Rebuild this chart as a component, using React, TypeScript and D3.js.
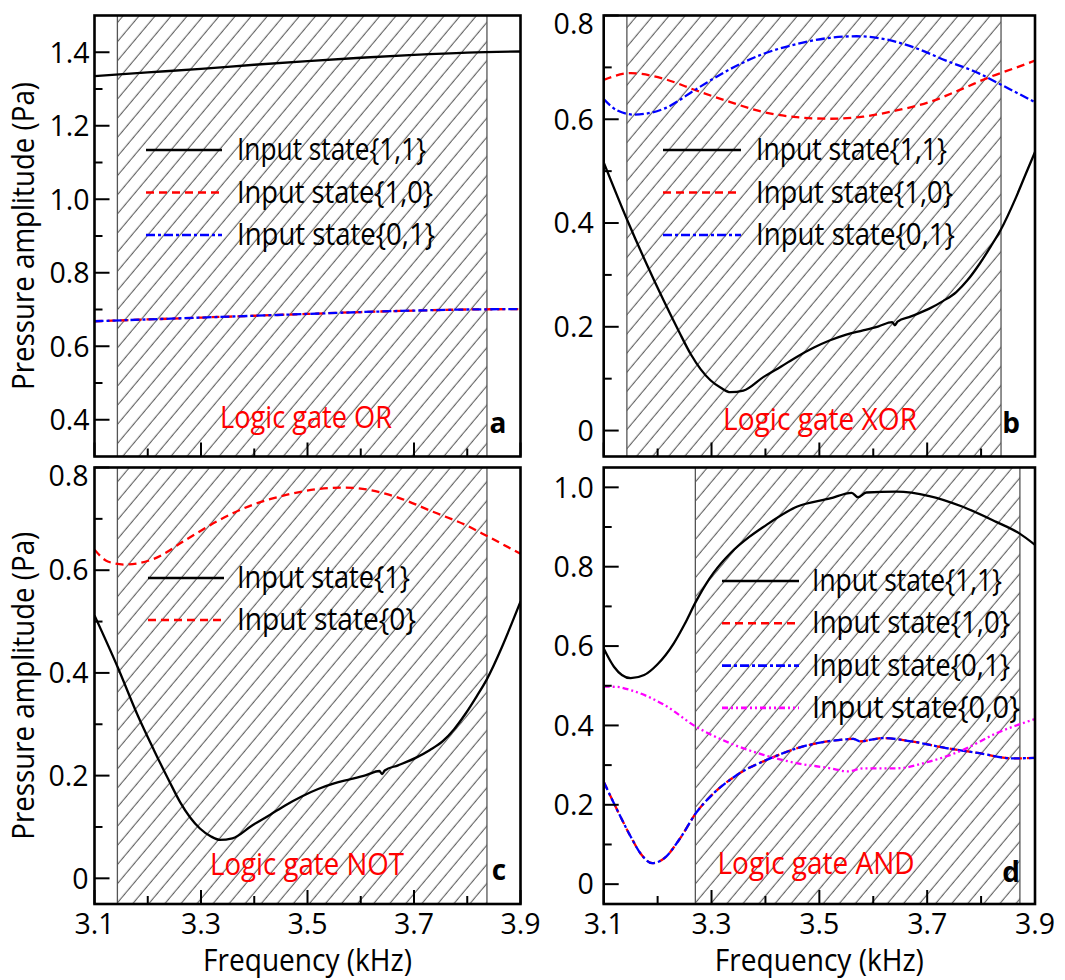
import React from "react";
import * as d3 from "d3";

// ---------------- data ----------------
const freqMajor = [3.1, 3.3, 3.5, 3.7, 3.9];
const freqMinor = [3.2, 3.4, 3.6, 3.8];
const freqLabels = ["3.1", "3.3", "3.5", "3.7", "3.9"];

// (a) Logic gate OR
const orFreq = [3.1, 3.2, 3.3, 3.4, 3.5, 3.6, 3.7, 3.8, 3.9];
const or11 = [1.335, 1.345, 1.355, 1.366, 1.376, 1.385, 1.393, 1.399, 1.402];
const or10 = [0.668, 0.673, 0.678, 0.683, 0.688, 0.693, 0.697, 0.7, 0.701];
const or01 = [0.668, 0.673, 0.678, 0.683, 0.688, 0.693, 0.697, 0.7, 0.701];
const orYMajor = [0.4, 0.6, 0.8, 1.0, 1.2, 1.4];
const orYMinor = [0.5, 0.7, 0.9, 1.1, 1.3];
const orYLabels = ["0.4", "0.6", "0.8", "1.0", "1.2", "1.4"];

// (b) Logic gate XOR
const xorFreq11 = [3.1, 3.144, 3.18, 3.211, 3.24, 3.261, 3.28, 3.298, 3.318, 3.335, 3.359, 3.396, 3.43, 3.458, 3.49, 3.52, 3.55, 3.581, 3.61, 3.635, 3.64, 3.645, 3.67, 3.704, 3.73, 3.754, 3.775, 3.797, 3.818, 3.836, 3.865, 3.883, 3.9];
const xor11 = [0.517, 0.405, 0.32, 0.251, 0.19, 0.148, 0.118, 0.097, 0.082, 0.074, 0.077, 0.103, 0.124, 0.142, 0.16, 0.174, 0.185, 0.193, 0.201, 0.209, 0.203, 0.21, 0.22, 0.235, 0.25, 0.267, 0.29, 0.321, 0.355, 0.386, 0.45, 0.495, 0.537];
const xorFreq10 = [3.1, 3.15, 3.211, 3.273, 3.335, 3.396, 3.458, 3.52, 3.581, 3.643, 3.704, 3.766, 3.815, 3.858, 3.9];
const xor10 = [0.676, 0.689, 0.678, 0.655, 0.633, 0.614, 0.604, 0.601, 0.605, 0.617, 0.633, 0.659, 0.681, 0.697, 0.713];
const xorFreq01 = [3.1, 3.125, 3.156, 3.211, 3.273, 3.335, 3.396, 3.458, 3.52, 3.569, 3.618, 3.674, 3.735, 3.797, 3.84, 3.9];
const xor01 = [0.639, 0.617, 0.609, 0.62, 0.659, 0.697, 0.726, 0.745, 0.757, 0.76, 0.755, 0.739, 0.713, 0.688, 0.665, 0.633];
const lowYMajor = [0, 0.2, 0.4, 0.6, 0.8];
const lowYMinor = [0.1, 0.3, 0.5, 0.7];
const lowYLabels = ["0", "0.2", "0.4", "0.6", "0.8"];

// (c) Logic gate NOT
const notFreq1 = [3.1, 3.144, 3.18, 3.211, 3.24, 3.261, 3.28, 3.298, 3.318, 3.335, 3.359, 3.396, 3.43, 3.458, 3.49, 3.52, 3.55, 3.581, 3.61, 3.635, 3.64, 3.645, 3.67, 3.704, 3.73, 3.754, 3.775, 3.797, 3.818, 3.836, 3.865, 3.883, 3.9];
const not1 = [0.512, 0.41, 0.32, 0.251, 0.19, 0.148, 0.118, 0.097, 0.082, 0.075, 0.078, 0.103, 0.124, 0.142, 0.16, 0.174, 0.185, 0.193, 0.201, 0.209, 0.203, 0.21, 0.22, 0.235, 0.25, 0.267, 0.29, 0.321, 0.355, 0.386, 0.45, 0.495, 0.539];
const notFreq0 = [3.1, 3.125, 3.156, 3.211, 3.273, 3.335, 3.396, 3.458, 3.52, 3.569, 3.618, 3.674, 3.735, 3.797, 3.84, 3.9];
const not0 = [0.64, 0.617, 0.611, 0.622, 0.66, 0.698, 0.727, 0.746, 0.758, 0.761, 0.756, 0.74, 0.714, 0.688, 0.665, 0.632];

// (d) Logic gate AND
const andFreq11 = [3.1, 3.119, 3.15, 3.175, 3.199, 3.23, 3.25, 3.271, 3.29, 3.304, 3.335, 3.37, 3.396, 3.458, 3.52, 3.56, 3.572, 3.587, 3.643, 3.704, 3.766, 3.828, 3.871, 3.9];
const and11 = [0.594, 0.548, 0.519, 0.527, 0.553, 0.607, 0.655, 0.712, 0.757, 0.785, 0.834, 0.875, 0.9, 0.951, 0.972, 0.986, 0.975, 0.987, 0.989, 0.978, 0.951, 0.913, 0.884, 0.855];
const andFreq10 = [3.1, 3.125, 3.15, 3.168, 3.19, 3.212, 3.242, 3.271, 3.304, 3.347, 3.409, 3.47, 3.55, 3.563, 3.575, 3.618, 3.674, 3.735, 3.797, 3.858, 3.9];
const and10 = [0.258, 0.187, 0.12, 0.078, 0.053, 0.065, 0.116, 0.179, 0.229, 0.275, 0.317, 0.347, 0.365, 0.366, 0.36, 0.368, 0.359, 0.343, 0.33, 0.317, 0.318];
const and01 = [0.258, 0.187, 0.12, 0.078, 0.053, 0.065, 0.116, 0.179, 0.229, 0.275, 0.317, 0.347, 0.365, 0.366, 0.36, 0.368, 0.359, 0.343, 0.33, 0.317, 0.318];
const andFreq00 = [3.1, 3.125, 3.15, 3.212, 3.271, 3.335, 3.396, 3.458, 3.52, 3.553, 3.581, 3.643, 3.704, 3.766, 3.828, 3.9];
const and00 = [0.498, 0.497, 0.489, 0.452, 0.397, 0.355, 0.326, 0.305, 0.292, 0.284, 0.292, 0.292, 0.309, 0.338, 0.38, 0.416];
const andYMajor = [0, 0.2, 0.4, 0.6, 0.8, 1.0];
const andYMinor = [0.1, 0.3, 0.5, 0.7, 0.9];
const andYLabels = ["0", "0.2", "0.4", "0.6", "0.8", "1.0"];

const legend2 = ["Input state{1,1}", "Input state{1,0}", "Input state{0,1}"];
const legend1 = ["Input state{1}", "Input state{0}"];
const legend4 = ["Input state{1,1}", "Input state{1,0}", "Input state{0,1}", "Input state{0,0}"];

// ---------------- styles ----------------
const FONT = "'Open Sans', 'Noto Sans', sans-serif";
const TXT = 30.5;
const RED = "#ff0000";
const BLUE = "#0000ff";
const MAGENTA = "#ff00ff";
const S_SOLID = { color: "#000", dash: undefined as string | undefined, width: 2.3 };
const S_DASH = { color: RED, dash: "8,5", width: 2.3 };
const S_DASHDOT = { color: BLUE, dash: "9,3,3,3", width: 2.3 };
const S_DASHDOTDOT = { color: MAGENTA, dash: "6,3,2,3,2,3", width: 2.3 };

type Series = { f: number[]; v: number[]; style: typeof S_SOLID };
type Legend = { labels: string[]; styles: (typeof S_SOLID)[]; widths: number[]; x0: number; x1: number; tx: number; y0: number; step: number };

type PanelProps = {
  id: string;
  left: number; right: number; top: number; bottom: number;
  yDomain: [number, number];
  yMajor: number[]; yMinor: number[]; yLabels: string[]; yLabelGap: number;
  hatch: [number, number];
  series: Series[];
  legend: Legend;
  gate: { text: string; x: number; y: number; w: number };
  letter: { text: string; x: number; y: number };
  xLabels: boolean;
  yTitle: boolean;
};

function Panel(p: PanelProps) {
  const x = d3.scaleLinear().domain([3.1, 3.9]).range([p.left, p.right]);
  const y = d3.scaleLinear().domain(p.yDomain).range([p.bottom, p.top]);
  const line = d3
    .line<[number, number]>()
    .x((d) => x(d[0]))
    .y((d) => y(d[1]))
    .curve(d3.curveMonotoneX);
  const hx0 = x(p.hatch[0]);
  const hx1 = x(p.hatch[1]);
  return (
    <g>
      <defs>
        <clipPath id={`clip-${p.id}`}>
          <rect x={p.left} y={p.top} width={p.right - p.left} height={p.bottom - p.top} />
        </clipPath>
      </defs>
      <rect x={hx0} y={p.top} width={hx1 - hx0} height={p.bottom - p.top} fill="url(#hatch)" />
      <line x1={hx0} x2={hx0} y1={p.top} y2={p.bottom} stroke="#555" strokeWidth={1.3} />
      <line x1={hx1} x2={hx1} y1={p.top} y2={p.bottom} stroke="#555" strokeWidth={1.3} />
      <g clipPath={`url(#clip-${p.id})`}>
        {p.series.map((s, i) => (
          <path
            key={i}
            d={line(s.f.map((f, j) => [f, s.v[j]] as [number, number])) || ""}
            fill="none"
            stroke={s.style.color}
            strokeWidth={s.style.width}
            strokeDasharray={s.style.dash}
          />
        ))}
      </g>
      {/* legend */}
      {p.legend.labels.map((lab, i) => {
        const ly = p.legend.y0 + i * p.legend.step;
        const st = p.legend.styles[i];
        return (
          <g key={lab + i}>
            <line x1={p.legend.x0} x2={p.legend.x1} y1={ly} y2={ly} stroke={st.color} strokeWidth={2.6} strokeDasharray={st.dash} />
            <text x={p.legend.tx} y={ly + 10} fontSize={TXT} fontFamily={FONT} fill="#000" textLength={p.legend.widths[i]} lengthAdjust="spacingAndGlyphs">
              {lab}
            </text>
          </g>
        );
      })}
      <text x={p.gate.x} y={p.gate.y} fontSize={TXT} fontFamily={FONT} fill={RED} textAnchor="middle" textLength={p.gate.w} lengthAdjust="spacingAndGlyphs">
        {p.gate.text}
      </text>
      <text x={p.letter.x} y={p.letter.y} fontSize={28} fontWeight="bold" fontFamily={FONT} fill="#000" textAnchor="middle">
        {p.letter.text}
      </text>
      {/* y ticks */}
      {p.yMajor.map((v, i) => (
        <g key={"ym" + i}>
          <line x1={p.left} x2={p.left + 15} y1={y(v)} y2={y(v)} stroke="#000" strokeWidth={2} />
          <text x={p.left - p.yLabelGap} y={Math.max(y(v), p.top + 8)} dy="0.36em" fontSize={28.5} fontFamily={FONT} textAnchor="end" fill="#000">
            {p.yLabels[i]}
          </text>
        </g>
      ))}
      {p.yMinor.map((v, i) => (
        <line key={"yn" + i} x1={p.left} x2={p.left + 8} y1={y(v)} y2={y(v)} stroke="#000" strokeWidth={2} />
      ))}
      {/* x ticks */}
      {freqMajor.map((f, i) => (
        <g key={"xm" + i}>
          <line x1={x(f)} x2={x(f)} y1={p.bottom} y2={p.bottom - 14} stroke="#000" strokeWidth={2} />
          {p.xLabels && (
            <text x={x(f)} y={p.bottom + 29.5} fontSize={28.5} fontFamily={FONT} textAnchor="middle" fill="#000">
              {freqLabels[i]}
            </text>
          )}
        </g>
      ))}
      {freqMinor.map((f, i) => (
        <line key={"xn" + i} x1={x(f)} x2={x(f)} y1={p.bottom} y2={p.bottom - 8} stroke="#000" strokeWidth={2} />
      ))}
      {p.xLabels && (
        <text x={(p.left + p.right) / 2} y={971} fontSize={TXT} fontFamily={FONT} textAnchor="middle" fill="#000" textLength={209} lengthAdjust="spacingAndGlyphs">
          Frequency (kHz)
        </text>
      )}
      {p.yTitle && (
        <text
          transform={`translate(34,${(p.top + p.bottom) / 2}) rotate(-90)`}
          fontSize={TXT}
          fontFamily={FONT}
          textAnchor="middle"
          fill="#000"
          textLength={308}
          lengthAdjust="spacingAndGlyphs"
        >
          Pressure amplitude (Pa)
        </text>
      )}
      <rect x={p.left} y={p.top} width={p.right - p.left} height={p.bottom - p.top} fill="none" stroke="#000" strokeWidth={2.6} />
    </g>
  );
}

export default function App() {
  const L1 = 94.5, R1 = 520.5, L2 = 603.7, R2 = 1035;
  const T1 = 15.5, B1 = 456.5, T2 = 467.5, B2 = 904;
  return (
    <svg width={1065} height={980} style={{ display: "block", position: "absolute", left: 0, top: 0, background: "#fff" }}>
      <defs>
        <pattern id="hatch" patternUnits="userSpaceOnUse" width={12.3} height={12.3} patternTransform="rotate(40)">
          <line x1={6} y1={-1} x2={6} y2={14} stroke="#3a3a3a" strokeWidth={0.9} />
        </pattern>
      </defs>
      <rect x={0} y={0} width={1065} height={980} fill="#fff" />
      <Panel
        id="a" left={L1} right={R1} top={T1} bottom={B1}
        yDomain={[0.3, 1.5]} yMajor={orYMajor} yMinor={orYMinor} yLabels={orYLabels} yLabelGap={5}
        hatch={[3.143, 3.837]}
        series={[
          { f: orFreq, v: or11, style: S_SOLID },
          { f: orFreq, v: or10, style: S_DASH },
          { f: orFreq, v: or01, style: S_DASHDOT },
        ]}
        legend={{ labels: legend2, styles: [S_SOLID, S_DASH, S_DASHDOT], widths: [189, 196, 198], x0: 146, x1: 222, tx: 237, y0: 150, step: 42.5 }}
        gate={{ text: "Logic gate OR", x: 306, y: 428, w: 172 }}
        letter={{ text: "a", x: 498, y: 433 }}
        xLabels={false} yTitle={true}
      />
      <Panel
        id="b" left={L2} right={R2} top={T1} bottom={B1}
        yDomain={[-0.05, 0.8]} yMajor={lowYMajor} yMinor={lowYMinor} yLabels={lowYLabels} yLabelGap={10}
        hatch={[3.143, 3.837]}
        series={[
          { f: xorFreq11, v: xor11, style: S_SOLID },
          { f: xorFreq10, v: xor10, style: S_DASH },
          { f: xorFreq01, v: xor01, style: S_DASHDOT },
        ]}
        legend={{ labels: legend2, styles: [S_SOLID, S_DASH, S_DASHDOT], widths: [191, 197, 199], x0: 663, x1: 741, tx: 756, y0: 150, step: 42.5 }}
        gate={{ text: "Logic gate XOR", x: 820, y: 430, w: 194 }}
        letter={{ text: "b", x: 1011, y: 433 }}
        xLabels={false} yTitle={false}
      />
      <Panel
        id="c" left={L1} right={R1} top={T2} bottom={B2}
        yDomain={[-0.05, 0.8]} yMajor={lowYMajor} yMinor={lowYMinor} yLabels={lowYLabels} yLabelGap={6}
        hatch={[3.143, 3.837]}
        series={[
          { f: notFreq1, v: not1, style: S_SOLID },
          { f: notFreq0, v: not0, style: S_DASH },
        ]}
        legend={{ labels: legend1, styles: [S_SOLID, S_DASH], widths: [173, 179], x0: 148, x1: 224, tx: 237, y0: 578, step: 42 }}
        gate={{ text: "Logic gate NOT", x: 307, y: 875, w: 194 }}
        letter={{ text: "c", x: 499, y: 880 }}
        xLabels={true} yTitle={true}
      />
      <Panel
        id="d" left={L2} right={R2} top={T2} bottom={B2}
        yDomain={[-0.05, 1.05]} yMajor={andYMajor} yMinor={andYMinor} yLabels={andYLabels} yLabelGap={10}
        hatch={[3.27, 3.872]}
        series={[
          { f: andFreq11, v: and11, style: S_SOLID },
          { f: andFreq10, v: and10, style: S_DASH },
          { f: andFreq10, v: and01, style: S_DASHDOT },
          { f: andFreq00, v: and00, style: S_DASHDOTDOT },
        ]}
        legend={{ labels: legend4, styles: [S_SOLID, S_DASH, S_DASHDOT, S_DASHDOTDOT], widths: [190, 198, 198, 208], x0: 722, x1: 799, tx: 812, y0: 581, step: 42.3 }}
        gate={{ text: "Logic gate AND", x: 816, y: 874, w: 197 }}
        letter={{ text: "d", x: 1011, y: 882 }}
        xLabels={true} yTitle={false}
      />
    </svg>
  );
}
